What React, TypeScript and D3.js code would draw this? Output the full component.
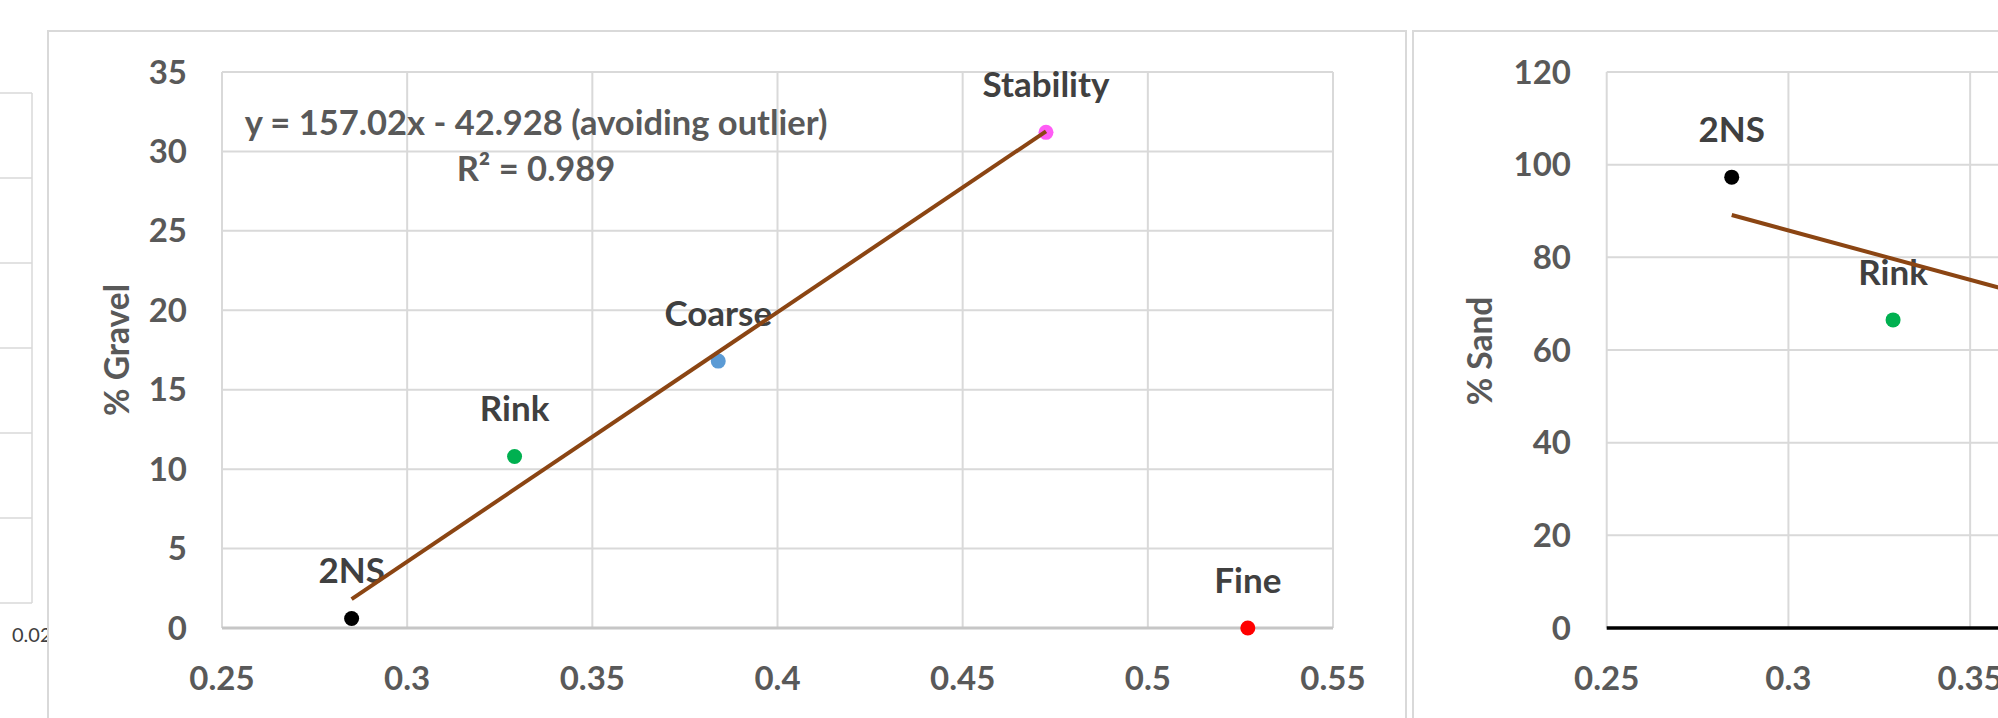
import * as d3 from 'd3'

// gravel chart (middle)
const samples = ['2NS', 'Rink', 'Coarse', 'Stability', 'Fine']
const sampleX = [0.285, 0.329, 0.384, 0.4725, 0.527]
const gravelPct = [0.6, 10.8, 16.8, 31.2, 0]
const sampleColors = ['#000000', '#00b050', '#5b9bd5', '#ff5cf5', '#ff0000']
const gravelFit = { slope: 157.02, intercept: -42.928, from: 0.285, to: 0.4725 }
const gravelEquation = 'y = 157.02x - 42.928 (avoiding outlier)'
const gravelR2 = 'R² = 0.989'

// sand chart (right, cut off)
const sandSamples = ['2NS', 'Rink']
const sandX = [0.2844, 0.3288]
const sandPct = [97.3, 66.5]
const sandColors = ['#000000', '#00b050']
const sandFit = { slope: -213.3, intercept: 149.8, from: 0.2844, to: 0.4725 }

const xTickValues = [0.25, 0.3, 0.35, 0.4, 0.45, 0.5, 0.55]
const gravelTicks = [0, 5, 10, 15, 20, 25, 30, 35]
const sandTicks = [0, 20, 40, 60, 80, 100, 120]
const leftGridTicks = [0, 1, 2, 3, 4, 5, 6]

const W = 1998
const H = 718
const FONT = 'Lato, "Open Sans", sans-serif'
const GRID = '#d9d9d9'
const TICK = '#595959'
const LABEL = '#404040'
const TREND = '#8b4513'

function fmt(v: number) {
  return String(v)
}

export default function App() {
  const xMain = d3.scaleLinear().domain([0.25, 0.55]).range([222, 1333])
  const yMain = d3.scaleLinear().domain([0, 35]).range([628, 72])
  const xSand = d3.scaleLinear().domain([0.25, 0.55]).range([1606.7, 2697])
  const ySand = d3.scaleLinear().domain([0, 120]).range([628, 72])
  const yLeft = d3.scaleLinear().domain([0, 6]).range([603, 93])

  const gravelLine = d3.line<number>()
    .x(d => xMain(d))
    .y(d => yMain(gravelFit.slope * d + gravelFit.intercept))
  const sandLine = d3.line<number>()
    .x(d => xSand(d))
    .y(d => ySand(sandFit.slope * d + sandFit.intercept))

  return (
    <svg width={W} height={H} style={{ position: 'absolute', left: 0, top: 0, background: '#fff' }}
      fontFamily={FONT}>
      <defs>
        <clipPath id="leftClip"><rect x={0} y={0} width={47} height={H} /></clipPath>
      </defs>
      <rect width={W} height={H} fill="#fff" />

      {/* left chart fragment */}
      <g clipPath="url(#leftClip)">
        {leftGridTicks.map(t => (
          <line key={t} x1={0} x2={32} y1={yLeft(t)} y2={yLeft(t)} stroke={GRID} strokeWidth={1.5} />
        ))}
        <line x1={32} x2={32} y1={93} y2={603} stroke={GRID} strokeWidth={1.5} />
        <text x={12} y={642} fontSize={20} fill={LABEL}>0.02</text>
      </g>

      {/* gravel chart frame */}
      <rect x={48} y={31} width={1358} height={H} fill="#fff" stroke={GRID} strokeWidth={2} />
      {gravelTicks.map(t => (
        <line key={'gy' + t} x1={222} x2={1333} y1={yMain(t)} y2={yMain(t)} stroke={GRID} strokeWidth={2} />
      ))}
      {xTickValues.map(t => (
        <line key={'gx' + t} x1={xMain(t)} x2={xMain(t)} y1={72} y2={628} stroke={GRID} strokeWidth={2} />
      ))}
      <line x1={222} x2={1333} y1={628} y2={628} stroke="#c6c6c6" strokeWidth={3} />
      {gravelTicks.map(t => (
        <text key={'gyl' + t} x={187} y={yMain(t)} dy="0.35em" textAnchor="end" fontSize={33}
          fontWeight="bold" fill={TICK}>{fmt(t)}</text>
      ))}
      {xTickValues.map(t => (
        <text key={'gxl' + t} x={xMain(t)} y={690} textAnchor="middle" fontSize={33}
          fontWeight="bold" fill={TICK}>{fmt(t)}</text>
      ))}
      <text transform="translate(129,350) rotate(-90)" textAnchor="middle" fontSize={33.5}
        fontWeight="bold" fill={TICK}>% Gravel</text>

      {samples.map((s, i) => (
        <g key={s}>
          <circle cx={xMain(sampleX[i])} cy={yMain(gravelPct[i])} r={7.5} fill={sampleColors[i]} />
          <text x={xMain(sampleX[i])} y={yMain(gravelPct[i]) - 35} textAnchor="middle" fontSize={35}
            fontWeight="bold" fill={LABEL}>{s}</text>
        </g>
      ))}
      <path d={gravelLine([gravelFit.from, gravelFit.to]) || ''} stroke={TREND} strokeWidth={4} fill="none" />
      <text x={536} y={135} textAnchor="middle" fontSize={34.5} fontWeight="bold" fill={TICK}>{gravelEquation}</text>
      <text x={536} y={181} textAnchor="middle" fontSize={34.5} fontWeight="bold" fill={TICK}>{gravelR2}</text>

      {/* sand chart frame */}
      <rect x={1413} y={31} width={W} height={H} fill="#fff" stroke={GRID} strokeWidth={2} />
      {sandTicks.map(t => (
        <line key={'sy' + t} x1={1606.7} x2={2697} y1={ySand(t)} y2={ySand(t)} stroke={GRID} strokeWidth={2} />
      ))}
      {xTickValues.map(t => (
        <line key={'sx' + t} x1={xSand(t)} x2={xSand(t)} y1={72} y2={628} stroke={GRID} strokeWidth={2} />
      ))}
      <line x1={1606.7} x2={2697} y1={628} y2={628} stroke="#000" strokeWidth={3.5} />
      {sandTicks.map(t => (
        <text key={'syl' + t} x={1571} y={ySand(t)} dy="0.35em" textAnchor="end" fontSize={33}
          fontWeight="bold" fill={TICK}>{fmt(t)}</text>
      ))}
      {xTickValues.map(t => (
        <text key={'sxl' + t} x={xSand(t)} y={690} textAnchor="middle" fontSize={33}
          fontWeight="bold" fill={TICK}>{fmt(t)}</text>
      ))}
      <text transform="translate(1492,351) rotate(-90)" textAnchor="middle" fontSize={33.5}
        fontWeight="bold" fill={TICK}>% Sand</text>
      {sandSamples.map((s, i) => (
        <g key={'s' + s}>
          <circle cx={xSand(sandX[i])} cy={ySand(sandPct[i])} r={7.5} fill={sandColors[i]} />
          <text x={xSand(sandX[i])} y={ySand(sandPct[i]) - 35} textAnchor="middle" fontSize={35}
            fontWeight="bold" fill={LABEL}>{s}</text>
        </g>
      ))}
      <path d={sandLine([sandFit.from, sandFit.to]) || ''} stroke={TREND} strokeWidth={4} fill="none" />
    </svg>
  )
}
